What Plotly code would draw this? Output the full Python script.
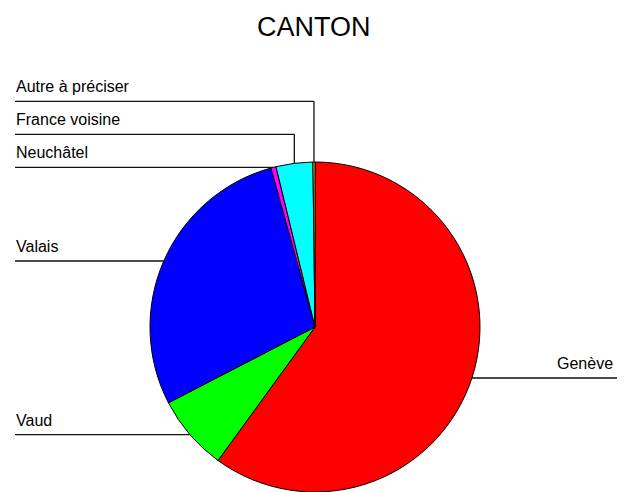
import math
import plotly.graph_objects as go

# Data (percent share by canton)
labels = ["Genève", "Vaud", "Valais", "Neuchâtel", "France voisine", "Autre à préciser"]
values = [60.0, 7.4, 28.3, 0.5, 3.6, 0.2]
colors = ["#FF0000", "#00FF00", "#0000FF", "#FF00FF", "#00FFFF", "#FFCC00"]
title_text = "CANTON"

PAGE_W, PAGE_H = 625, 492
OFF = 8  # page body margin
W, H = PAGE_W - OFF, PAGE_H - OFF
cx, cy, r = 315, 327, 165  # pie centre / radius in page pixels

def px(x):
    return (x - OFF) / W

def py(y):
    return 1 - (y - OFF) / H

fig = go.Figure()
fig.add_trace(go.Pie(
    labels=labels, values=values, sort=False, direction="clockwise", rotation=0,
    marker=dict(colors=colors, line=dict(color="#000000", width=1)),
    textinfo="none", hoverinfo="none", showlegend=False,
    domain=dict(x=[px(cx - r), px(cx + r)], y=[max(0, py(cy + r)), py(cy - r)]),
))

# leader lines and labels computed from the slice mid-angles
total = sum(values)
cum = 0.0
mids = []
for v in values:
    a = (cum + v / 2) / total * 2 * math.pi
    mids.append((cx + r * math.sin(a), cy - r * math.cos(a)))
    cum += v

shapes = []
annotations = []
line_style = dict(color="#111111", width=1.3)
font = dict(family="Liberation Sans, Arial", size=16, color="#000000")
left_x = 15
right_x = 617
stack_gap = 33

base_level = None
stack_idx = 0
for i, (lab, (ex, ey)) in enumerate(zip(labels, mids)):
    if ex > cx:
        shapes.append(dict(type="line", xref="paper", yref="paper",
                           x0=px(ex), y0=py(ey), x1=px(right_x), y1=py(ey), line=line_style))
        annotations.append(dict(text=lab, x=px(right_x - 2), y=py(ey - 4), xref="paper", yref="paper",
                                xanchor="right", yanchor="bottom", showarrow=False, font=font))
        continue
    if ey < cy - r * 0.95:
        if base_level is None:
            base_level = ey
            level = ey
        else:
            stack_idx += 1
            level = base_level - stack_gap * stack_idx
    else:
        level = ey
    if abs(level - ey) > 0.5:
        shapes.append(dict(type="line", xref="paper", yref="paper",
                           x0=px(ex), y0=py(ey), x1=px(ex), y1=py(level), line=line_style))
    shapes.append(dict(type="line", xref="paper", yref="paper",
                       x0=px(left_x), y0=py(level), x1=px(ex), y1=py(level), line=line_style))
    annotations.append(dict(text=lab, x=px(left_x - 1), y=py(level - 4), xref="paper", yref="paper",
                            xanchor="left", yanchor="bottom", showarrow=False, font=font))

annotations.append(dict(text=title_text, x=px(314), y=py(44), xref="paper", yref="paper",
                        xanchor="center", yanchor="bottom", showarrow=False,
                        font=dict(family="Liberation Sans, Arial", size=27, color="#000000")))

fig.update_layout(
    width=W, height=H, margin=dict(l=0, r=0, t=0, b=0),
    paper_bgcolor="#FFFFFF", plot_bgcolor="#FFFFFF",
    shapes=shapes, annotations=annotations,
)
fig.write_html("out.html")
